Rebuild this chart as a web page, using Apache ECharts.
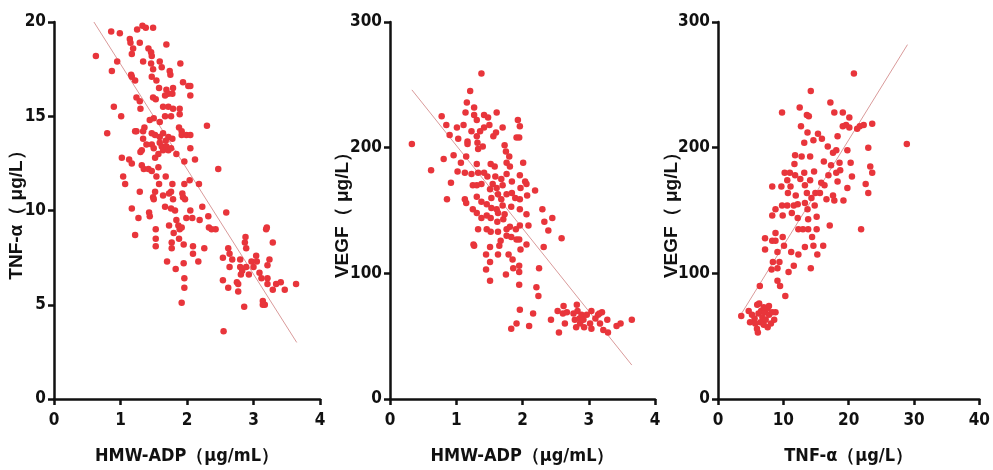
<!DOCTYPE html>
<html style="height: 100%">
<head>
    <meta charset="utf-8" />
    <title>Scatter Chart</title>
    <script type="text/javascript" src="https://cdn.jsdelivr.net/npm/echarts@6/dist/echarts.min.js"></script>
</head>
<body style="height: 100%; margin: 0; background: #fff">
<div id="Chart" style="width: 993px; height: 470px"></div>
<script type="text/javascript">
// HMW-ADP vs TNF-a
var adpTnf = [
  [0.63,18.2],[0.86,19.5],[0.87,17.4],[0.99,19.4],[0.95,17.9],[0.9,15.5],[1.01,15.0],[0.8,14.1],
  [1.14,19.1],[1.15,18.9],[1.17,18.3],[1.19,18.6],[1.16,17.2],[1.17,17.1],[1.22,16.9],[1.24,16.0],
  [1.29,15.8],[1.3,15.4],[1.24,14.2],[1.22,14.2],[1.34,14.2],[1.25,19.6],[1.33,19.8],[1.38,19.7],
  [1.49,19.7],[1.29,18.9],[1.34,17.9],[1.42,18.6],[1.46,17.8],[1.47,18.2],[1.49,17.5],[1.47,17.1],
  [1.46,18.4],[1.59,17.9],[1.62,17.6],[1.69,18.8],[1.74,17.4],[1.75,17.2],[1.9,17.8],[1.54,16.9],
  [1.58,16.5],[1.69,16.4],[1.72,16.2],[1.78,16.2],[1.79,16.5],[1.94,16.8],[2.02,16.6],[2.05,16.6],
  [2.05,16.1],[1.49,16.0],[1.53,15.9],[1.67,16.1],[1.64,15.5],[1.72,15.5],[1.79,15.4],[1.89,15.4],
  [1.89,15.1],[1.76,15.0],[1.67,15.0],[1.59,14.7],[1.5,14.9],[1.44,14.8],[1.36,14.4],[1.88,14.4],
  [1.92,14.2],[1.92,14.0],[1.99,14.0],[2.05,14.0],[2.3,14.5],[1.47,14.1],[1.52,14.0],[1.59,13.9],
  [1.64,14.1],[1.72,13.9],[1.78,13.8],[1.34,13.8],[1.32,13.2],[1.39,13.5],[1.47,13.5],[1.5,13.3],
  [1.59,13.6],[1.62,13.4],[1.64,13.2],[1.68,13.7],[1.69,13.4],[1.72,13.2],[1.76,13.3],[1.84,13.0],
  [1.57,13.0],[1.52,12.8],[1.3,13.1],[2.05,13.3],[1.96,12.6],[2.12,12.7],[1.02,12.8],[1.13,12.7],
  [1.17,12.5],[1.32,12.4],[1.35,12.2],[1.42,12.2],[1.47,12.1],[1.57,12.3],[1.54,11.8],[1.68,11.8],
  [2.47,12.2],[1.04,11.8],[1.07,11.4],[1.58,11.4],[1.78,11.4],[2.04,11.6],[2.18,11.4],[1.96,11.4],
  [1.29,11.0],[1.52,11.0],[1.73,10.9],[1.76,11.0],[1.93,10.9],[1.94,10.7],[1.64,10.8],[1.49,10.7],
  [1.5,10.6],[1.79,10.6],[1.97,10.6],[1.67,10.2],[1.76,10.1],[1.82,10.0],[1.17,10.1],[1.43,9.9],
  [1.44,9.7],[1.27,9.6],[2.05,10.0],[2.23,10.2],[2.32,9.7],[2.59,9.9],[1.99,9.6],[2.08,9.6],
  [2.19,9.5],[1.73,9.2],[1.84,9.5],[1.87,9.2],[1.89,9.0],[1.92,9.1],[2.33,9.1],[2.37,9.0],
  [2.43,9.0],[1.53,9.0],[1.22,8.7],[1.8,8.8],[1.88,8.5],[1.95,8.2],[1.53,8.5],[1.53,8.1],
  [1.77,8.3],[1.77,8.0],[2.09,8.1],[2.09,7.7],[2.26,8.0],[2.17,7.3],[1.7,7.3],[1.83,6.9],
  [1.95,7.2],[1.96,6.4],[1.96,5.9],[1.92,5.1],[2.54,7.5],[2.62,8.0],[2.64,7.7],[2.68,7.4],
  [2.64,7.0],[2.54,6.3],[2.62,5.9],[2.8,7.4],[2.8,7.0],[2.87,8.3],[2.88,8.6],[2.89,8.0],
  [2.83,6.8],[2.89,7.0],[2.93,6.6],[2.97,7.3],[3.0,7.0],[3.04,7.6],[3.05,7.3],[3.09,6.7],
  [3.12,6.4],[3.19,9.0],[3.2,9.1],[3.29,8.3],[3.24,7.4],[3.21,7.1],[3.21,6.4],[3.21,6.1],
  [3.34,6.1],[3.29,5.8],[3.41,6.2],[3.47,5.8],[3.64,6.1],[2.75,6.2],[2.77,5.7],[2.86,4.9],
  [3.14,5.2],[3.17,5.0],[3.14,5.0],[2.55,3.6],[2.77,6.1],[2.81,6.6]
];
var fitAdpTnf = [[0.6,20],[3.65,3]];

// HMW-ADP vs VEGF
var adpVegf = [
  [0.33,203],[0.62,182],[0.78,225],[0.85,218],[0.81,191],[0.86,159],[0.9,210],[0.92,172],
  [0.96,194],[1.01,216],[1.03,207],[1.02,181],[1.07,188],[1.11,218],[1.14,228],[1.16,236],
  [1.17,205],[1.17,203],[1.15,193],[1.13,180],[1.13,159],[1.15,156],[1.21,245],[1.23,213],
  [1.23,179],[1.25,170],[1.25,151],[1.26,123],[1.27,122],[1.27,232],[1.27,226],[1.31,222],
  [1.31,209],[1.32,204],[1.33,199],[1.31,187],[1.33,180],[1.31,170],[1.31,161],[1.31,148],
  [1.33,135],[1.36,213],[1.38,259],[1.42,226],[1.42,216],[1.4,201],[1.42,180],[1.38,171],
  [1.38,157],[1.38,144],[1.45,115],[1.45,103],[1.48,224],[1.5,218],[1.47,177],[1.46,155],
  [1.46,146],[1.46,135],[1.52,187],[1.51,167],[1.55,171],[1.53,160],[1.53,152],[1.52,144],
  [1.52,133],[1.51,121],[1.51,109],[1.51,94],[1.56,209],[1.6,212],[1.61,228],[1.58,185],
  [1.59,177],[1.61,168],[1.63,163],[1.61,151],[1.63,148],[1.62,141],[1.63,133],[1.65,122],
  [1.67,126],[1.63,115],[1.68,175],[1.7,170],[1.68,159],[1.7,154],[1.71,143],[1.7,216],
  [1.73,202],[1.75,197],[1.76,188],[1.76,179],[1.76,163],[1.73,147],[1.76,135],[1.76,130],
  [1.79,115],[1.8,193],[1.81,185],[1.84,173],[1.84,164],[1.83,153],[1.81,137],[1.83,129],
  [1.85,111],[1.75,99],[1.86,104],[1.89,160],[1.9,135],[1.91,127],[1.93,222],[1.96,217],
  [1.91,208],[1.95,208],[1.96,178],[1.97,168],[1.96,159],[1.96,151],[1.96,138],[1.95,127],
  [1.97,119],[1.95,106],[1.95,101],[1.95,91],[1.96,71],[1.91,60],[1.83,56],[2.01,188],
  [2.04,173],[2.06,171],[2.07,162],[2.06,147],[2.09,138],[2.06,123],[2.1,58],[2.16,68],
  [2.19,166],[2.21,89],[2.24,82],[2.25,104],[2.3,151],[2.33,141],[2.32,121],[2.39,134],
  [2.45,144],[2.59,128],[2.43,63],[2.53,70],[2.55,53],[2.62,74],[2.61,68],[2.67,69],
  [2.64,60],[2.82,75],[2.83,70],[2.79,63],[2.81,57],[2.86,64],[2.87,60],[2.89,67],
  [2.92,63],[2.93,57],[2.97,67],[3.02,60],[3.04,70],[3.04,56],[3.1,64],[3.14,67],
  [3.17,60],[3.2,69],[3.22,55],[3.28,63],[3.29,53],[3.42,58],[3.48,60],[3.65,63],
  [3.16,68],[2.77,68]
];
var fitAdpVegf = [[0.33,246],[3.65,27]];

// TNF-a vs VEGF
var tnfVegf = [
  [3.56,66],[4.7,70],[4.9,61],[5.2,67],[5.6,64],[6.0,75],[5.96,56],[6.1,53],
  [6.2,68],[6.5,61],[6.6,70],[6.8,65],[7.0,59],[7.2,69],[7.3,63],[7.6,57],
  [7.6,72],[7.8,67],[7.8,74],[8.1,60],[8.6,63],[8.8,69],[5.7,60],[6.3,76],
  [7.0,73],[8.3,69],[6.4,90],[8.2,103],[8.4,109],[7.2,119],[7.2,128],[8.3,126],
  [8.8,126],[8.3,146],[8.3,169],[8.8,151],[8.8,132],[9.1,117],[9.1,104],[9.4,109],
  [9.1,94],[9.5,90],[9.8,228],[9.7,169],[9.8,154],[9.9,146],[9.9,129],[10.1,122],
  [10.2,180],[10.3,82],[10.7,164],[10.6,154],[10.6,174],[10.8,101],[11.0,180],[11.1,169],
  [11.2,117],[11.3,148],[11.6,106],[11.6,154],[11.7,187],[11.8,194],[11.8,178],[11.9,162],
  [12.2,155],[12.2,144],[12.3,135],[12.3,115],[12.5,232],[12.6,175],[12.7,217],[12.8,193],
  [13.0,135],[13.2,204],[13.2,180],[13.3,170],[13.3,156],[13.3,121],[13.6,226],[13.9,225],
  [13.7,212],[13.6,164],[13.7,151],[13.8,143],[13.8,135],[14.1,174],[14.1,193],[14.2,245],
  [14.2,104],[14.3,160],[14.4,129],[14.6,122],[14.6,206],[14.7,181],[14.8,154],[14.9,164],
  [15.1,145],[15.1,135],[15.2,115],[15.3,211],[15.6,164],[15.8,172],[15.9,207],[16.1,122],
  [16.2,189],[16.3,170],[16.6,159],[16.8,201],[16.9,178],[17.1,138],[17.2,236],[17.3,186],
  [17.6,196],[17.6,162],[17.8,158],[17.8,228],[18.1,180],[18.1,198],[18.3,209],[18.3,173],
  [18.6,188],[18.7,182],[19.1,228],[19.1,217],[19.2,158],[19.6,218],[19.8,198],[19.8,168],
  [20.1,224],[20.1,216],[20.3,188],[20.5,177],[20.8,259],[21.3,215],[21.7,217],[21.9,135],
  [22.3,218],[22.6,171],[23.0,200],[23.0,164],[23.3,185],[23.6,219],[23.6,180],[28.9,203]
];
var fitTnfVegf = [[3.6,68],[29,282]];

var dotColor = '#e8353b';
var fitColor = '#d99a9a';
var narrow = '"DejaVu Sans Condensed", "Liberation Sans Narrow", sans-serif';

function xAxisCfg(idx, max, interval, name) {
  return {
    gridIndex: idx, type: 'value', min: 0, max: max, interval: interval,
    name: name, nameLocation: 'middle', nameGap: 48,
    nameTextStyle: { fontFamily: narrow, fontWeight: 'bold', fontSize: 18, color: '#111' },
    axisLine: { lineStyle: { color: '#111', width: 2.5 } },
    axisTick: { show: true, length: 6, lineStyle: { width: 2.5, color: '#111' } },
    axisLabel: { fontFamily: narrow, fontWeight: 'bold', fontSize: 17, color: '#111', margin: 13 },
    splitLine: { show: false }
  };
}
function yAxisCfg(idx, max, interval, name, gap) {
  return {
    gridIndex: idx, type: 'value', min: 0, max: max, interval: interval,
    name: name, nameLocation: 'middle', nameGap: gap, nameRotate: 90, nameMoveOverlap: false,
    nameTextStyle: { fontFamily: 'Liberation Sans, Arial, sans-serif', fontWeight: 'bold', fontSize: 19, color: '#111' },
    axisLine: { show: true, lineStyle: { color: '#111', width: 2.5 } },
    axisTick: { show: true, length: 6, lineStyle: { width: 2.5, color: '#111' } },
    axisLabel: { fontFamily: narrow, fontWeight: 'bold', fontSize: 17, color: '#111', margin: 8 },
    splitLine: { show: false }
  };
}
function dots(idx, data) {
  return { type: 'scatter', xAxisIndex: idx, yAxisIndex: idx, data: data,
    symbolSize: 6.5, itemStyle: { color: dotColor, opacity: 1 }, silent: true };
}
function fit(idx, data) {
  return { type: 'line', xAxisIndex: idx, yAxisIndex: idx, data: data, showSymbol: false,
    lineStyle: { color: fitColor, width: 1 }, z: 1, silent: true };
}

var myChart = echarts.init(document.getElementById('Chart'));
var option = {
  animation: false,
  grid: [
    { left: 54, top: 22, width: 266, height: 378 },
    { left: 390, top: 22, width: 265, height: 378 },
    { left: 718, top: 22, width: 266, height: 378 }
  ],
  xAxis: [
    xAxisCfg(0, 4, 1, 'HMW-ADP（μg/mL）'),
    xAxisCfg(1, 4, 1, 'HMW-ADP（μg/mL）'),
    xAxisCfg(2, 40, 10, 'TNF-α（μg/L）')
  ],
  yAxis: [
    yAxisCfg(0, 20, 5, 'TNF-α（ μg/L）', 28),
    yAxisCfg(1, 300, 100, 'VEGF（ μg/L）', 38),
    yAxisCfg(2, 300, 100, 'VEGF（ μg/L）', 37)
  ],
  series: [
    fit(0, fitAdpTnf), dots(0, adpTnf),
    fit(1, fitAdpVegf), dots(1, adpVegf),
    fit(2, fitTnfVegf), dots(2, tnfVegf)
  ]
};
myChart.setOption(option);
</script>
</body>
</html>
